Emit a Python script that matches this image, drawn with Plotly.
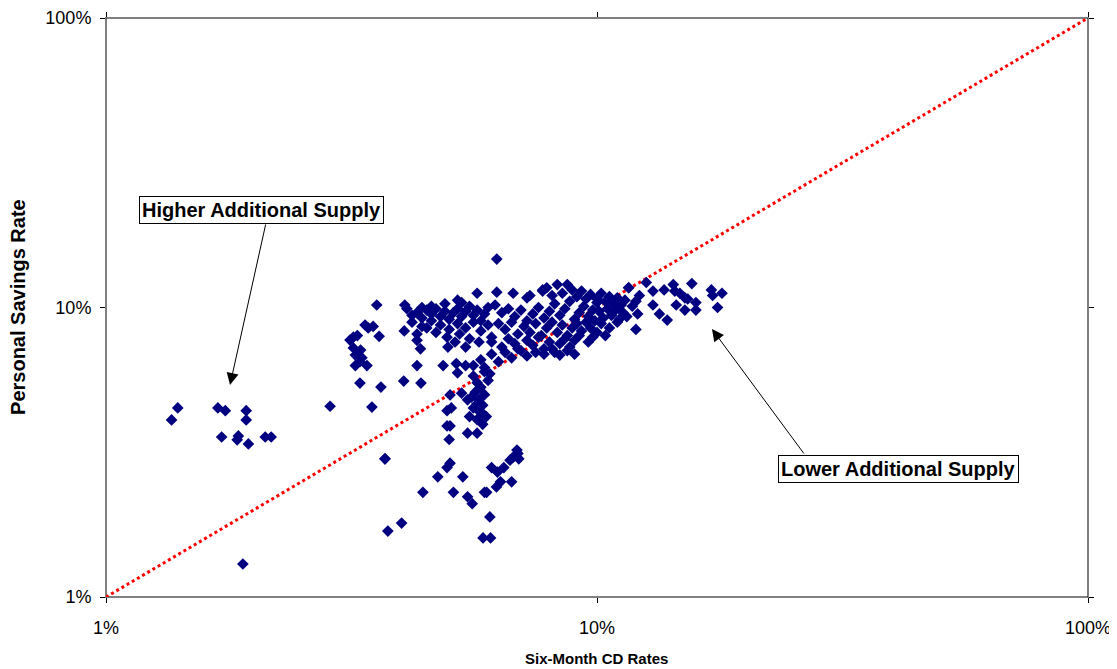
import plotly.graph_objects as go

# Six-month CD rate (%) and personal savings rate (%)
cd_rate = [
    # far-left group
    1.40, 1.36, 1.69, 1.75, 1.93, 1.93, 1.72, 1.86, 1.85, 1.95, 2.11, 2.17, 1.90,
    # left arc
    3.56, 3.37, 3.50, 3.42, 3.19, 3.14, 3.25, 3.60, 3.19, 3.30, 3.22, 3.32, 3.29, 3.40, 3.22,
    3.29, 3.63, 4.04, 4.38, 2.86, 3.48, 3.70, 4.00, 3.75,
    # upper-left of main cluster
    4.10, 4.20, 4.30, 4.40, 4.50, 4.60, 4.70, 4.80, 4.90, 5.00, 5.10, 5.20, 5.30, 5.40, 5.50,
    5.60, 5.70, 5.80, 5.90, 6.00,
    4.20, 4.40, 4.60, 4.80, 5.00, 5.20, 5.40, 5.60, 5.80, 6.00,
    4.05, 4.30, 4.50, 4.70, 4.95, 5.25, 5.50, 5.75, 6.10,
    4.06, 4.40, 4.60, 4.90, 5.30, 5.20,
    5.70, 6.25, 6.75, 7.75, 7.20, 6.25,
    4.30, 4.86, 5.17, 5.40, 5.20, 4.97, 5.40, 5.14, 4.37, 4.30,
    # middle of main cluster
    6.20, 6.40, 6.60, 6.80, 7.00, 7.20, 7.40, 7.60, 7.80, 8.00, 8.20, 8.40, 8.60, 8.80, 9.00,
    9.20, 9.40, 9.60, 9.80, 10.0,
    6.30, 6.50, 6.70, 6.90, 7.10, 7.30, 7.50, 7.70, 7.90, 8.10, 8.30, 8.50, 8.70, 8.90, 9.10,
    9.30, 9.50, 9.70, 9.90,
    6.10, 6.40, 6.60, 6.80, 7.00, 7.20, 7.40, 7.60, 7.80, 8.00, 8.20, 8.40, 8.60, 8.80, 9.00, 9.20,
    5.60, 5.80, 5.90, 6.10, 6.30, 6.50, 6.70, 6.90, 7.20, 7.50, 7.80, 8.10, 8.40, 8.70, 9.00,
    # upper-right of main cluster
    8.50, 8.70, 8.90, 9.10, 9.30, 9.50, 9.70, 10.0, 10.2, 10.4, 10.6, 10.8, 11.0, 11.2, 11.4,
    11.6, 11.8, 12.0, 12.2,
    10.1, 10.3, 10.5, 10.7, 10.9, 11.1, 11.3, 11.5, 10.2, 10.6, 11.0, 10.0, 9.80, 9.60, 10.4,
    7.75, 8.10, 7.30, 7.90, 8.30, 12.1, 12.0, 11.6,
    # right group
    12.6, 13.0, 13.7, 14.3, 14.4, 14.75, 15.1, 15.3, 15.6, 15.9, 15.9, 13.0, 13.4, 13.9,
    14.5, 15.1, 17.1, 17.2, 17.97, 17.6,
    # vertical column below the line
    5.60, 5.70, 5.80, 5.65, 5.90, 5.55, 5.75, 5.85, 5.60, 5.80, 5.95, 5.70, 5.85, 5.50, 5.70,
    5.45, 5.30, 5.02, 4.95, 5.05, 4.95, 5.02, 5.00, 5.45, 5.70, 5.74, 5.85, 6.00, 6.05, 5.90,
    # lower scatter
    3.70, 5.02, 4.95, 4.74, 5.33, 4.42, 5.10, 5.45, 5.57, 5.90, 5.96, 6.05, 5.86, 6.07,
    6.10, 6.27, 6.46, 6.65, 6.75, 6.87, 6.90, 6.93, 6.24, 6.36, 6.70,
]

savings_rate = [
    # far-left group
    4.50, 4.09, 4.50, 4.40, 4.40, 4.09, 3.57, 3.60, 3.49, 3.38, 3.57, 3.57, 1.30,
    # left arc
    10.2, 8.70, 8.60, 8.50, 7.90, 7.72, 8.00, 7.95, 7.25, 7.13, 6.85, 6.70, 6.50, 6.30, 6.30,
    5.48, 5.31, 5.57, 5.48, 4.56, 4.53, 3.00, 1.80, 1.69,
    # upper-left of main cluster
    9.90, 9.40, 9.60, 9.20, 9.80, 9.50, 9.90, 9.30, 9.70, 9.10, 9.60, 9.90, 9.30, 9.70, 10.1,
    9.40, 9.80, 9.00, 9.50, 10.0,
    8.90, 8.60, 9.00, 8.70, 8.40, 8.80, 8.50, 8.90, 8.30, 8.70,
    8.30, 8.10, 8.50, 8.20, 7.90, 8.10, 7.80, 7.60, 7.90,
    10.2, 10.0, 10.1, 10.3, 10.4, 10.6,
    11.2, 11.3, 11.2, 11.4, 10.8, 14.7,
    6.30, 6.30, 6.40, 6.30, 5.95, 7.30, 7.30, 7.60, 7.20, 7.70,
    # middle of main cluster
    10.2, 9.60, 9.90, 9.30, 9.80, 9.00, 9.50, 10.0, 9.20, 9.70, 10.3, 9.40, 9.90, 10.5, 9.10,
    9.60, 10.1, 9.30, 9.80, 10.4,
    8.80, 8.40, 8.90, 8.10, 8.60, 8.20, 8.80, 8.00, 8.50, 8.90, 8.20, 8.70, 8.00, 8.50, 8.80,
    8.30, 8.90, 8.50, 9.00,
    7.60, 7.30, 7.80, 7.50, 7.10, 7.70, 7.40, 7.90, 7.20, 7.60, 7.00, 7.50, 7.80, 7.30, 7.70, 8.00,
    6.30, 6.60, 6.00, 6.90, 6.50, 7.00, 6.70, 7.20, 6.80, 7.00, 6.90, 7.20, 6.85, 7.10, 6.90,
    # upper-right of main cluster
    11.2, 12.0, 11.5, 10.9, 11.4, 10.7, 11.1, 10.7, 11.2, 10.5, 10.9, 10.3, 10.8, 10.2, 10.6,
    11.7, 10.1, 10.5, 11.0,
    9.70, 9.20, 9.90, 9.40, 9.80, 9.10, 9.60, 9.30, 8.80, 8.50, 8.90, 8.20, 7.90, 7.60, 8.00,
    11.5, 11.0, 11.0, 11.7, 12.0, 9.50, 8.40, 11.7,
    # right group
    12.2, 11.4, 11.5, 12.0, 11.4, 11.2, 10.8, 10.7, 12.1, 10.4, 9.80, 10.2, 9.50, 9.05,
    10.2, 9.80, 11.5, 11.0, 11.2, 10.0,
    # vertical column below the line
    5.80, 5.50, 5.30, 5.10, 5.00, 4.90, 4.80, 4.60, 4.50, 4.35, 4.20, 4.10, 3.95, 4.20, 4.65,
    4.80, 5.06, 4.99, 4.40, 4.50, 3.90, 3.90, 3.50, 3.68, 3.68, 4.40, 4.30, 5.60, 5.90, 6.20,
    # lower scatter
    3.00, 2.90, 2.80, 2.60, 2.60, 2.30, 2.30, 2.22, 2.10, 2.30, 2.30, 1.89, 1.60, 1.60,
    2.80, 2.70, 2.80, 2.97, 3.04, 3.22, 3.13, 3.00, 2.40, 2.50, 2.50,
]

diag_x = [1, 100]
diag_y = [1, 100]

tick_vals = [1, 10, 100]
tick_text = ["1%", "10%", "100%"]

fig = go.Figure()
fig.add_trace(go.Scatter(
    x=diag_x, y=diag_y, mode="lines",
    line=dict(color="#ff0000", width=3, dash="dot"),
    hoverinfo="skip", showlegend=False,
))
fig.add_trace(go.Scatter(
    x=cd_rate, y=savings_rate, mode="markers",
    marker=dict(symbol="diamond", size=9, color="#000080", line=dict(width=0)),
    showlegend=False,
))

axis_common = dict(
    type="log", range=[0, 2], automargin=False,
    tickvals=tick_vals, ticktext=tick_text,
    showgrid=False, zeroline=False,
    showline=True, linecolor="#808080", linewidth=1, mirror="ticks",
    ticks="outside", ticklen=5, tickcolor="#000000", tickwidth=1,
    tickfont=dict(family="Liberation Sans, Arial", size=18, color="#000000"),
)

fig.update_xaxes(**axis_common, ticklabelstandoff=9)
fig.update_yaxes(**axis_common, ticklabelstandoff=5)

# plot-area border
fig.add_shape(type="rect", xref="paper", yref="paper", x0=0, y0=0, x1=1, y1=1,
              line=dict(color="#000000", width=1), layer="below")

title_font_x = dict(family="Liberation Sans, Arial", size=15, color="#000000")
title_font_y = dict(family="Liberation Sans, Arial", size=20, color="#000000")
fig.add_annotation(x=0.499, y=-0.1054, xref="paper", yref="paper",
                   text="<b>Six-Month CD Rates</b>", showarrow=False,
                   xanchor="center", yanchor="middle", font=title_font_x)
fig.add_annotation(x=-0.0896, y=0.501, xref="paper", yref="paper",
                   text="<b>Personal Savings Rate</b>", showarrow=False, textangle=-90,
                   xanchor="center", yanchor="middle", font=title_font_y)

box_font = dict(family="Liberation Sans, Arial", size=20, color="#000000")
fig.add_annotation(
    x=0.158, y=0.669, xref="paper", yref="paper", xanchor="center", yanchor="middle",
    text="<b>Higher Additional Supply</b>", showarrow=False,
    bgcolor="#ffffff", bordercolor="#000000", borderwidth=1, borderpad=2,
    font=box_font,
)
fig.add_annotation(
    x=0.8075, y=0.221, xref="paper", yref="paper", xanchor="center", yanchor="middle",
    text="<b>Lower Additional Supply</b>", showarrow=False,
    bgcolor="#ffffff", bordercolor="#000000", borderwidth=1, borderpad=2,
    font=box_font,
)
# arrows
fig.add_annotation(
    x=0.2525, y=0.7323, xref="x", yref="y", text="",
    showarrow=True, ax=36, ay=-162, arrowhead=2, arrowsize=2.4, arrowwidth=1,
    arrowcolor="#000000",
)
fig.add_annotation(
    x=1.2342, y=0.9257, xref="x", yref="y", text="",
    showarrow=True, ax=93, ay=126, arrowhead=2, arrowsize=2.4, arrowwidth=1,
    arrowcolor="#000000",
)

# the page places the figure 8px from the top-left corner
fig.update_layout(
    width=1109, height=661,
    margin=dict(l=98, r=29, t=10, b=72),
    paper_bgcolor="#ffffff", plot_bgcolor="#ffffff",
    font=dict(family="Liberation Sans, Arial", color="#000000"),
    showlegend=False,
)

fig.write_html("out.html")
